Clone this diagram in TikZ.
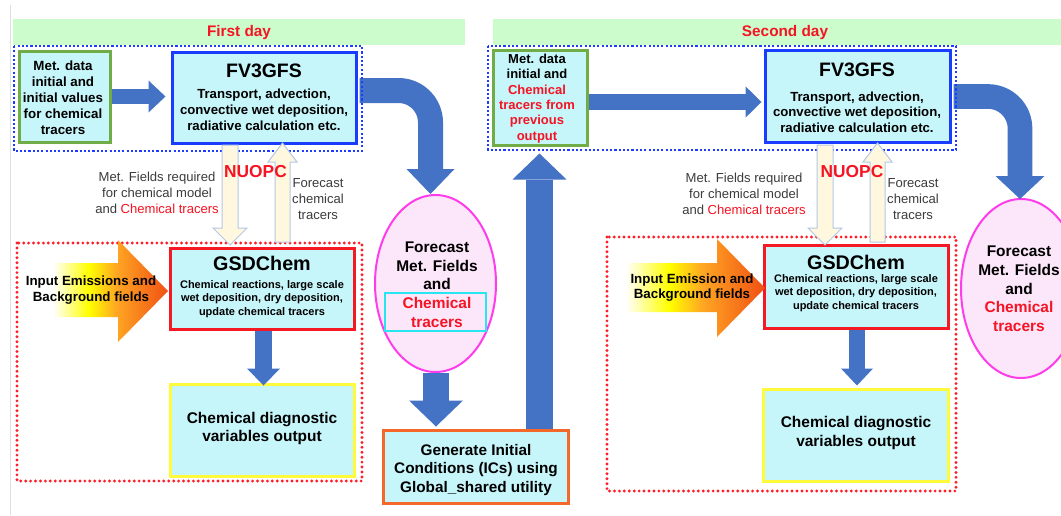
\documentclass[tikz,border=0pt]{standalone}
\usepackage{fontspec}
\setmainfont{Liberation Sans}
\usetikzlibrary{arrows.meta,calc,shapes.geometric}
\definecolor{cyanfill}{RGB}{198,245,250}
\definecolor{blk}{RGB}{68,114,196}
\definecolor{band}{RGB}{204,252,204}
\definecolor{dotblue}{RGB}{30,60,255}
\definecolor{dotred}{RGB}{255,30,40}
\definecolor{grn}{RGB}{112,173,71}
\definecolor{fvblue}{RGB}{25,60,255}
\definecolor{gsdred}{RGB}{245,25,35}
\definecolor{ylw}{RGB}{255,250,60}
\definecolor{orng}{RGB}{244,105,42}
\definecolor{mag}{RGB}{255,60,235}
\definecolor{pinkfill}{RGB}{252,230,250}
\definecolor{txtred}{RGB}{245,20,35}
\definecolor{gtxt}{RGB}{60,60,60}
\definecolor{cream}{RGB}{255,248,222}
\definecolor{creamedge}{RGB}{180,199,231}
\definecolor{cyanedge}{RGB}{40,230,240}
\definecolor{emorange}{RGB}{255,165,35}
\definecolor{emred}{RGB}{240,80,20}
\pgfdeclarehorizontalshading{emis}{100bp}{color(0bp)=(white); color(30bp)=(white); color(44bp)=(yellow); color(55bp)=(emorange); color(75bp)=(emred); color(100bp)=(emred)}
\newcommand\mkbox[6]{%
  \pgfmathsetmacro\bw{(#5-#3)*0.75}\pgfmathsetmacro\bh{(#6-#4)*0.75}%
  \node[box,#2,minimum width=\bw pt,minimum height=\bh pt] (#1) at ({(#3+#5)/2},{(#4+#6)/2}) {};}
\begin{document}
\begin{tikzpicture}[x=0.75pt,y=-0.75pt,
  box/.style={draw,line width=2.25pt,fill=cyanfill,inner sep=0pt,rectangle},
  txt/.style={inner sep=0pt,align=center,text=black},
  blkarrow/.style={draw=blk,color=blk},
  dotb/.style={draw=dotblue,line width=2pt,dash pattern=on 1.6pt off 1.6pt},
  dotr/.style={draw=dotred,line width=2.4pt,line cap=round,dash pattern=on 0pt off 3.7pt},
  nuopc/.style={fill=cream,draw=creamedge,line width=0.75pt},
  emisarrow/.style={shading=emis}]
\useasboundingbox (0,0) rectangle (1061,515);
\fill[white] (0,0) rectangle (1061,515);
\draw[gray!25,line width=0.75pt] (10,5) -- (10,515);
% bands
\fill[band] (13,19) rectangle (465,45);
\fill[band] (493,19) rectangle (1061,45);
\node[txt,text=txtred,font=\fontsize{11.5pt}{13pt}\selectfont\bfseries] (day1) at (239,33) {First day};
\node[txt,text=txtred,font=\fontsize{11.5pt}{13pt}\selectfont\bfseries] (day2) at (785,33) {Second day};
% boxes
\mkbox{met1}{draw=grn}{19}{51}{110}{142}
\mkbox{fv1}{draw=fvblue}{172}{52}{356}{143}
\mkbox{gsd1}{draw=gsdred}{170}{248}{354}{329}
\mkbox{diag1}{draw=ylw}{170}{384}{354}{476}
\mkbox{gen}{draw=orng}{383}{430}{568}{503}
\mkbox{met2}{draw=grn}{493}{50}{587}{145}
\mkbox{fv2}{draw=fvblue}{765}{50}{950}{142}
\mkbox{gsd2}{draw=gsdred}{764}{245}{948}{328}
\mkbox{diag2}{draw=ylw}{763}{389}{948}{481}
\node[ellipse,draw=mag,line width=1.5pt,fill=pinkfill,inner sep=0pt,minimum width=90.75pt,minimum height=132.75pt] (ell1) at (435.5,283.5) {};
\node[ellipse,draw=mag,line width=1.5pt,fill=pinkfill,inner sep=0pt,minimum width=90pt,minimum height=134.25pt] (ell2) at (1021,288.5) {};
\mkbox{ct1}{draw=cyanedge,fill=none,line width=1.6pt}{385}{293}{486}{331}
% texts
\node[txt,font=\fontsize{10pt}{12pt}\selectfont\bfseries] (t1) at (63,97.5) {Met. data\\initial and\\initial values\\for chemical\\tracers};
\node[txt,font=\fontsize{14.6pt}{16pt}\selectfont\bfseries] (t2) at (264,71) {FV3GFS};
\node[txt,font=\fontsize{9.9pt}{12pt}\selectfont\bfseries] (t3) at (264,110) {Transport, advection,\\convective wet deposition,\\radiative calculation etc.};
\node[txt,text=gtxt,font=\fontsize{9.8pt}{12pt}\selectfont] (t4) at (157,193) {Met. Fields required\\for chemical model\\and \textcolor{txtred}{Chemical tracers}};
\node[txt,text=gtxt,font=\fontsize{9.8pt}{12pt}\selectfont] (t5) at (318,199) {Forecast\\chemical\\tracers};
\node[txt,font=\fontsize{14.8pt}{16pt}\selectfont\bfseries] (t8) at (262,263) {GSDChem};
\node[txt,font=\fontsize{8.25pt}{10pt}\selectfont\bfseries] (t9) at (262,299) {Chemical reactions, large scale\\wet deposition, dry deposition,\\update chemical tracers};
\node[txt,font=\fontsize{11.6pt}{14pt}\selectfont\bfseries] (t10) at (262,428.5) {Chemical diagnostic\\variables output};
\node[txt,font=\fontsize{11.6pt}{14pt}\selectfont\bfseries] (t11) at (437,284.5) {Forecast\\Met. Fields\\and\\\textcolor{txtred}{Chemical}\\\textcolor{txtred}{tracers}};
\node[txt,font=\fontsize{11.5pt}{13.9pt}\selectfont\bfseries] (t12) at (476,470) {Generate Initial\\Conditions (ICs) using\\Global\_shared utility};
\node[txt,font=\fontsize{9.75pt}{11.5pt}\selectfont\bfseries] (t13) at (537,98.5) {Met. data\\initial and\\\textcolor{txtred}{Chemical}\\\textcolor{txtred}{tracers from}\\\textcolor{txtred}{previous}\\\textcolor{txtred}{output}};
\node[txt,font=\fontsize{14.6pt}{16pt}\selectfont\bfseries] (t14) at (857,70) {FV3GFS};
\node[txt,font=\fontsize{9.9pt}{11.6pt}\selectfont\bfseries] (t15) at (857,112) {Transport, advection,\\convective wet deposition,\\radiative calculation etc.};
\node[txt,text=gtxt,font=\fontsize{9.8pt}{12pt}\selectfont] (t16) at (744,194) {Met. Fields required\\for chemical model\\and \textcolor{txtred}{Chemical tracers}};
\node[txt,text=gtxt,font=\fontsize{9.8pt}{12pt}\selectfont] (t17) at (913,199) {Forecast\\chemical\\tracers};
\node[txt,font=\fontsize{14.8pt}{16pt}\selectfont\bfseries] (t19) at (856,262) {GSDChem};
\node[txt,font=\fontsize{8.25pt}{10pt}\selectfont\bfseries] (t20) at (856,293) {Chemical reactions, large scale\\wet deposition, dry deposition,\\update chemical tracers};
\node[txt,font=\fontsize{11.6pt}{14pt}\selectfont\bfseries] (t21) at (856,433) {Chemical diagnostic\\variables output};
\node[txt,font=\fontsize{11.6pt}{14pt}\selectfont\bfseries] (t22) at (1019,289) {Forecast\\Met. Fields\\and\\\textcolor{txtred}{Chemical}\\\textcolor{txtred}{tracers}};
% blue block arrows
\draw[blkarrow,line width=11.5pt,-{Triangle[length=12.75pt,width=24pt,line width=0pt]}] (met1.east) -- ($(fv1.west)+(-5,-1)$);
\draw[blkarrow,line width=11.5pt,-{Triangle[length=12pt,width=23.5pt,line width=0pt]}] ($(met2.east)+(0,4.5)$) -- ($(fv2.west)+(-2,6)$);
\draw[blkarrow,line width=18.75pt,rounded corners=24pt,-{Triangle[length=18.75pt,width=36pt,line width=0pt]}] ($(fv1.east)+(2,-7)$) -| ($(ell1.north)+(-5,0)$);
\draw[blkarrow,line width=18.5pt,rounded corners=24pt,-{Triangle[length=17.25pt,width=36.75pt,line width=0pt]}] ($(fv2.east)+(2,0.5)$) -| ($(ell2.north)+(-1,1)$);
\draw[blkarrow,line width=12.75pt,-{Triangle[length=12.75pt,width=24.75pt,line width=0pt]}] ($(gsd1.south)+(1.5,0)$) -- ($(diag1.north)+(1.5,3)$);
\draw[blkarrow,line width=12pt,-{Triangle[length=12.75pt,width=24pt,line width=0pt]}] ($(gsd2.south)+(1,0)$) -- ($(diag2.north)+(1.5,-2)$);
\draw[blkarrow,line width=19.5pt,-{Triangle[length=19.5pt,width=40.5pt,line width=0pt]}] ($(ell1.south)+(0.5,0)$) -- ($(ell1.south |- gen.north)+(0.5,-2)$);
\draw[blkarrow,line width=20.25pt,-{Triangle[length=19.5pt,width=40.5pt,line width=0pt]}] ($(met2.south |- gen.north)+(-0.5,0)$) -- ($(met2.south)+(-0.5,7)$);
% dotted groups
\draw[dotb] (14,46) rectangle (362,151);
\draw[dotb] (488,46) rectangle (956,150);
\draw[dotr] (17,243) rectangle (362,481);
\draw[dotr] (607,237) rectangle (956,491);
% emission arrows
\shade[emisarrow] (40,263) -- (118,263) -- (118,240) -- (168,291) -- (118,342) -- (118,317) -- (40,317) -- cycle;
\shade[emisarrow] (610,263) -- (717,263) -- (717,239) -- (765,288) -- (717,337) -- (717,312) -- (610,312) -- cycle;
\node[txt,font=\fontsize{10pt}{12pt}\selectfont\bfseries] (t7) at (91,290) {Input Emissions and\\Background fields};
\node[txt,font=\fontsize{10pt}{11.25pt}\selectfont\bfseries] (t18) at (692,287.5) {Input Emission and\\Background fields};
% NUOPC arrows
\foreach \dx in {0,595}{
\begin{scope}[shift={(\dx,0)}]
\draw[nuopc] (222,145) -- (238,145) -- (238,228) -- (247,228) -- (230,245) -- (213,228) -- (222,228) -- cycle;
\draw[nuopc] (282.5,143) -- (297,162) -- (290,162) -- (290,242) -- (275,242) -- (275,162) -- (268,162) -- cycle;
\end{scope}}
\node[txt,text=txtred,font=\fontsize{13pt}{15pt}\selectfont\bfseries] (n1) at (255.5,172) {NUOPC};
\node[txt,text=txtred,font=\fontsize{13pt}{15pt}\selectfont\bfseries] (n2) at (852,172) {NUOPC};
\end{tikzpicture}
\end{document}
